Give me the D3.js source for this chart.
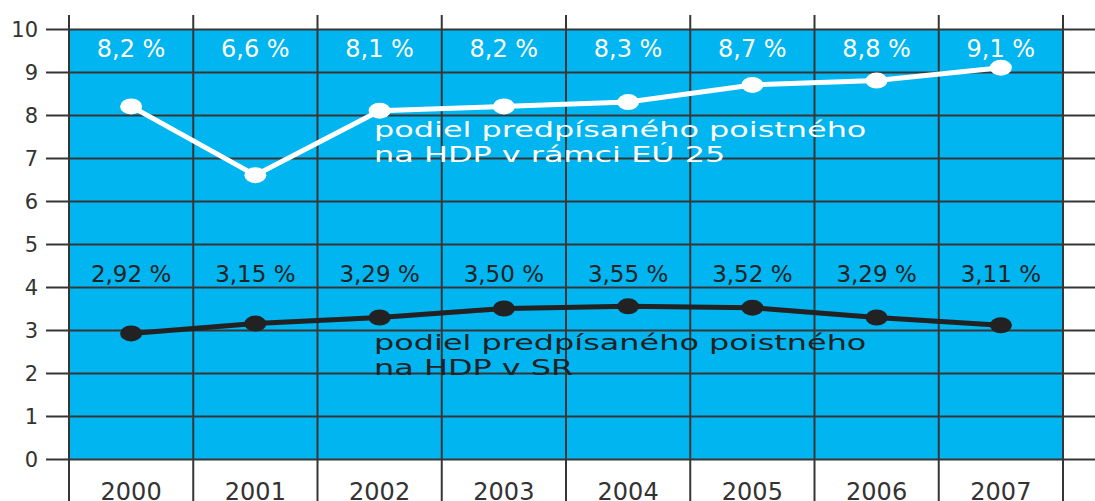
<!DOCTYPE html>
<html>
<head>
<meta charset="utf-8">
<script src="https://d3js.org/d3.v7.min.js"></script>
<style>
    body { margin: 0; background: #fff; }
    svg { display: block; font-family: "DejaVu Sans", sans-serif; }
</style>
</head>
<body>
<svg width="1095" height="501"></svg>
<script>
    var years = ['2000', '2001', '2002', '2003', '2004', '2005', '2006', '2007'];
    var euValues = [8.2, 6.6, 8.1, 8.2, 8.3, 8.7, 8.8, 9.1];
    var euLabels = ['8,2 %', '6,6 %', '8,1 %', '8,2 %', '8,3 %', '8,7 %', '8,8 %', '9,1 %'];
    var srValues = [2.92, 3.15, 3.29, 3.50, 3.55, 3.52, 3.29, 3.11];
    var srLabels = ['2,92 %', '3,15 %', '3,29 %', '3,50 %', '3,55 %', '3,52 %', '3,29 %', '3,11 %'];
    var yTicks = [0, 1, 2, 3, 4, 5, 6, 7, 8, 9, 10];
    var euName = ['podiel predpísaného poistného', 'na HDP v rámci EÚ 25'];
    var srName = ['podiel predpísaného poistného', 'na HDP v SR'];

    var mLeft = 69, mRight = 1063, mTop = 29, mBottom = 459;
    var blue = '#00b5f0', grid = '#363636', dark = '#222';

    var x = d3.scaleBand().domain(years).range([mLeft, mRight]);
    var y = d3.scaleLinear().domain([0, 10]).range([mBottom, mTop]);
    var cx = function(d, i) { return x(years[i]) + x.bandwidth() / 2; };

    var svg = d3.select('svg');

    // blue plot area
    svg.append('rect')
        .attr('x', mLeft).attr('y', mTop)
        .attr('width', mRight - mLeft).attr('height', mBottom - mTop)
        .attr('fill', blue);

    // horizontal grid lines + y labels
    svg.append('g')
        .attr('transform', 'translate(' + mLeft + ',0)')
        .call(d3.axisLeft(y).tickValues(yTicks).tickFormat(d3.format('d')).tickSize(-(1095 - mLeft)).tickPadding(31))
        .call(function(g) {
            g.select('.domain').remove();
            g.selectAll('.tick line').attr('stroke', grid).attr('stroke-width', 2).attr('x1', -23);
            g.selectAll('.tick text')
                .attr('fill', '#333')
                .attr('font-size', 21)
                .attr('font-family', '"DejaVu Sans", sans-serif')
                .attr('dy', '0.36em');
        });

    // vertical grid lines
    var bounds = years.map(function(d) { return x(d); }).concat([mRight]);
    svg.append('g').selectAll('line')
        .data(bounds)
        .enter()
        .append('line')
        .attr('x1', function(d) { return d; })
        .attr('x2', function(d) { return d; })
        .attr('y1', 15)
        .attr('y2', 501)
        .attr('stroke', grid)
        .attr('stroke-width', 2);

    // year labels
    svg.append('g').selectAll('text')
        .data(years)
        .enter()
        .append('text')
        .attr('x', cx)
        .attr('y', 500)
        .attr('text-anchor', 'middle')
        .attr('font-size', 24)
        .attr('fill', '#333')
        .text(function(d) { return d; });

    var line = d3.line()
        .x(function(d, i) { return cx(d, i); })
        .y(function(d) { return y(d); });

    // EU series
    svg.append('path')
        .datum(euValues)
        .attr('d', line)
        .attr('fill', 'none')
        .attr('stroke', '#fff')
        .attr('stroke-width', 5);
    svg.append('g').selectAll('ellipse')
        .data(euValues)
        .enter()
        .append('ellipse')
        .attr('cx', cx)
        .attr('cy', function(d) { return y(d); })
        .attr('rx', 11).attr('ry', 8)
        .attr('fill', '#fff');
    svg.append('g').selectAll('text')
        .data(euLabels)
        .enter()
        .append('text')
        .attr('x', cx)
        .attr('y', 57)
        .attr('text-anchor', 'middle')
        .attr('font-size', 24)
        .attr('fill', '#fff')
        .text(function(d) { return d; });

    // SR series
    svg.append('path')
        .datum(srValues)
        .attr('d', line)
        .attr('fill', 'none')
        .attr('stroke', dark)
        .attr('stroke-width', 5);
    svg.append('g').selectAll('ellipse')
        .data(srValues)
        .enter()
        .append('ellipse')
        .attr('cx', cx)
        .attr('cy', function(d) { return y(d); })
        .attr('rx', 11).attr('ry', 8)
        .attr('fill', dark);
    svg.append('g').selectAll('text')
        .data(srLabels)
        .enter()
        .append('text')
        .attr('x', cx)
        .attr('y', 282)
        .attr('text-anchor', 'middle')
        .attr('font-size', 23)
        .attr('fill', dark)
        .text(function(d) { return d; });

    // series names (horizontally stretched like the original print)
    function seriesName(lines, y0, color) {
        svg.append('g')
            .attr('transform', 'translate(374,' + y0 + ') scale(1.52,1)')
            .selectAll('text')
            .data(lines)
            .enter()
            .append('text')
            .attr('x', 0)
            .attr('y', function(d, i) { return i * 25; })
            .attr('font-size', 21)
            .attr('fill', color)
            .text(function(d) { return d; });
    }
    seriesName(euName, 137, '#fff');
    seriesName(srName, 350, dark);
</script>
</body>
</html>
